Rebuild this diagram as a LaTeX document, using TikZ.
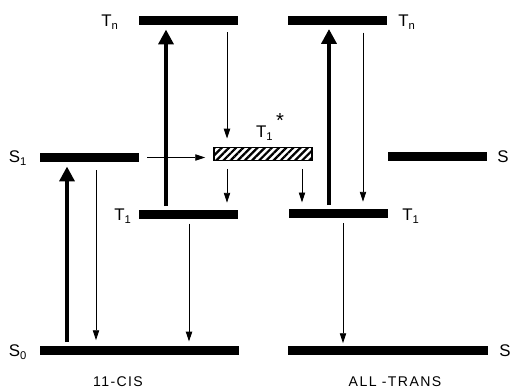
\documentclass[tikz,border=0pt]{standalone}
\usepackage{fontspec}
\setmainfont{Liberation Sans}
\newfontfamily\capfont[LetterSpace=10]{Liberation Sans}
\usetikzlibrary{arrows.meta,patterns.meta}

\tikzset{
	level/.style={fill=black, inner sep=0pt, minimum height=0.225cm, minimum width=2.475cm},
	wide level/.style={level, minimum width=4.975cm},
	hot level/.style={draw, line width=0.9pt, inner sep=0pt, minimum height=0.33cm, minimum width=2.45cm,
		pattern={Lines[angle=45, distance=3.6pt, line width=1.6pt]}},
	lbl/.style={font=\fontsize{12}{14}\selectfont, inner sep=0pt},
	caption/.style={font=\capfont\fontsize{10}{12}\selectfont, inner sep=0pt},
	absorb/.style={line width=3.2pt, -{Triangle[width=10.5pt, length=10.5pt]}, shorten <=2.5pt, shorten >=3pt},
	decay/.style={line width=0.6pt, -{Triangle[width=4.5pt, length=7pt]}, shorten <=5pt, shorten >=4pt},
}

\begin{document}
\begin{tikzpicture}[x=0.025cm, y=-0.025cm]
	\useasboundingbox (0,0) rectangle (511,391);
	% 11-cis levels
	\node [level] (tncis) at (188.5,20.5) {};
	\node [level] (s1cis) at (89.5,157.5) {};
	\node [level] (t1cis) at (188.5,214.5) {};
	\node [wide level] (s0cis) at (139.5,350.5) {};
	% all-trans levels
	\node [level] (tntrans) at (337.5,20) {};
	\node [level] (s1trans) at (437.5,156.5) {};
	\node [level] (t1trans) at (338.5,213.5) {};
	\node [wide level, minimum width=5cm] (s0trans) at (388,350) {};
	% hot triplet
	\node [hot level] (tstar) at (263,154) {};

	% labels
	\node [lbl] (tncislbl) at (110,22) {T\textsubscript{n}};
	\node [lbl] (s1cislbl) at (18,158) {S\textsubscript{1}};
	\node [lbl] (t1cislbl) at (123,216) {T\textsubscript{1}};
	\node [lbl] (s0cislbl) at (18,352) {S\textsubscript{0}};
	\node [lbl] (tstarlbl) at (270,127) {T\textsubscript{1}\raisebox{1.1ex}{\,\Large *}};
	\node [lbl] (tntranslbl) at (407,22) {T\textsubscript{n}};
	\node [lbl, anchor=west] (s1translbl) at (497,157) {S};
	\node [lbl, anchor=west] (t1translbl) at (402,216) {T\textsubscript{1}};
	\node [lbl, anchor=west] (s0translbl) at (499,351) {S};
	\node [caption] (cislbl) at (118,382) {11-CIS};
	\node [caption] (translbl) at (395,382) {ALL -TRANS};

	% columns of the transitions
	\coordinate (xa) at (67,0);
	\coordinate (xb) at (96,0);
	\coordinate (xc) at (166,0);
	\coordinate (xd) at (189,0);
	\coordinate (xe) at (227,0);
	\coordinate (xf) at (302,0);
	\coordinate (xg) at (329,0);
	\coordinate (xh) at (343,0);
	\coordinate (xi) at (363,0);

	% 11-cis side
	\draw [absorb] (s0cis.north -| xa) -- (s1cis.south -| xa);
	\draw [decay, shorten <=5.5pt] (s1cis.south -| xb) -- (s0cis.north -| xb);
	\draw [decay, shorten <=5.5pt, shorten >=5.5pt] (s1cis.east) -- (tstar.west |- s1cis.east);
	\draw [absorb] (t1cis.north -| xc) -- (tncis.south -| xc);
	\draw [decay, shorten >=5.5pt] (tncis.south -| xe) -- (tstar.north -| xe);
	\draw [decay, shorten >=5pt] (tstar.south -| xe) -- (t1cis.north -| xe);
	\draw [decay, shorten <=3pt, shorten >=3pt] (t1cis.south -| xd) -- (s0cis.north -| xd);
	% all-trans side
	\draw [decay, shorten >=4.5pt] (tstar.south -| xf) -- (t1trans.north -| xf);
	\draw [absorb] (t1trans.north -| xg) -- (tntrans.south -| xg);
	\draw [decay, shorten <=5.5pt, shorten >=5pt] (tntrans.south -| xi) -- (t1trans.north -| xi);
	\draw [decay, shorten <=3.5pt, shorten >=1.5pt] (t1trans.south -| xh) -- (s0trans.north -| xh);
\end{tikzpicture}
\end{document}
